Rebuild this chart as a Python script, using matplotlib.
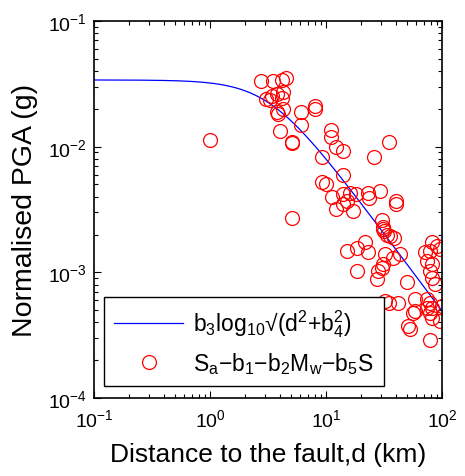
import numpy as np
import matplotlib
matplotlib.use("Agg")
import matplotlib.pyplot as plt
from matplotlib.ticker import LogLocator, NullFormatter

plt.rcParams['font.family'] = ['Liberation Sans', 'DejaVu Sans']
plt.rcParams['mathtext.default'] = 'regular'

# observed normalised PGA vs distance to the fault
dist_km = [2.74, 3.51, 4.15, 4.52, 3.04, 3.40, 3.29, 3.76, 4.29, 4.15,
           3.76, 3.88, 4.29, 4.01, 5.06, 5.06, 6.05, 6.05, 1.00, 8.04,
           8.04, 11.0, 11.0, 12.1, 13.9, 35.2, 9.18, 25.9, 14.1, 9.18,
           10.1, 11.2, 14.1, 16.1, 18.1, 23.2, 23.5, 29.2, 40.1, 40.1,
           12.2, 14.1, 15.1, 17.2, 30.2, 31.2, 31.6, 33.8, 38.5, 21.9,
           18.4, 15.1, 23.2, 32.3, 38.0, 43.5, 81.5, 71.3, 90.0, 96.1,
           78.8, 31.2, 30.2, 28.2, 27.4, 18.4, 49.6, 73.8, 81.5, 78.8,
           81.5, 87.1, 35.2, 32.3, 42.0, 58.5, 56.6, 58.5, 73.8, 78.8,
           73.8, 81.5, 78.8, 81.5, 96.1, 51.2, 53.0, 78.8, 99.4, 31.2,
           35.6, 5.06]
pga_g = [0.0331, 0.0334, 0.0340, 0.0349, 0.0239, 0.0251, 0.0236, 0.0262, 0.0270, 0.0242,
         0.0188, 0.0182, 0.0201, 0.0134, 0.0109, 0.0107, 0.0188, 0.0148, 0.0113, 0.0211,
         0.0201, 0.0135, 0.0120, 0.00986, 0.00927, 0.0108, 0.00820, 0.00820, 0.00593, 0.00519,
         0.00509, 0.00394, 0.00419, 0.00426, 0.00419, 0.00426, 0.00387, 0.00440, 0.00370, 0.00348,
         0.00322, 0.00348, 0.00370, 0.00308, 0.00261, 0.00231, 0.00213, 0.00197, 0.00189, 0.00175,
         0.00157, 0.00148, 0.00144, 0.00139, 0.00131, 0.00139, 0.00173, 0.00144, 0.00162, 0.00152,
         0.00148, 0.00116, 0.00109, 0.00102, 0.000879, 0.00102, 0.000843, 0.00123, 0.00116, 0.00102,
         0.000907, 0.000802, 0.000574, 0.000590, 0.000574, 0.000609, 0.000478, 0.000492, 0.000609, 0.000574,
         0.000524, 0.000524, 0.000478, 0.000435, 0.000409, 0.000373, 0.000352, 0.000292, 0.000540, 0.00220,
         0.00195, 0.00272]

# fitted attenuation term
b3 = -1.235
b4 = 3.25
offset = -0.837
d_fit = np.logspace(-1, 2, 300)
pga_fit = 10 ** (offset + b3 * np.log10(np.sqrt(d_fit ** 2 + b4 ** 2)))

fig = plt.figure(figsize=(4.65, 4.77), dpi=100)
ax = fig.add_axes([0.2022, 0.1635, 0.7483, 0.7904])

ax.plot(d_fit, pga_fit, color='#0000ff', lw=0.9,
        label=r'b$_3$log$_{10}$√(d$^2$+b$_4^2$)')
ax.plot(dist_km, pga_g, 'o', mfc='none', mec='red', ms=10, mew=0.9,
        label='S$_a$−b$_1$−b$_2$M$_w$−b$_5$S')

ax.set_xscale('log')
ax.set_yscale('log')
ax.set_xlim(0.1, 100)
ax.set_ylim(1e-4, 1e-1)

ax.xaxis.set_major_locator(LogLocator(base=10, numticks=10))
ax.yaxis.set_major_locator(LogLocator(base=10, numticks=10))
ax.xaxis.set_minor_locator(LogLocator(base=10, subs=np.arange(2, 10), numticks=10))
ax.yaxis.set_minor_locator(LogLocator(base=10, subs=np.arange(2, 10), numticks=10))
ax.xaxis.set_minor_formatter(NullFormatter())
ax.yaxis.set_minor_formatter(NullFormatter())
ax.tick_params(which='both', direction='in', top=True, right=True, width=0.8)
ax.tick_params(which='major', length=5, labelsize=14, pad=5)
ax.tick_params(axis='x', which='major', pad=7)
ax.tick_params(which='minor', length=3)
for s in ax.spines.values():
    s.set_linewidth(1.2)

ax.set_xlabel('Distance to the fault,d (km)', fontsize=19, labelpad=9)
ax.set_ylabel('Normalised PGA (g)', fontsize=20.5, labelpad=7)

leg = ax.legend(loc='lower left', bbox_to_anchor=(0.029, 0.032), fontsize=16.5,
                frameon=True, fancybox=False, edgecolor='black', framealpha=1,
                handlelength=3.0, borderpad=0.45, labelspacing=0.45,
                handletextpad=0.45, borderaxespad=0)
leg.get_frame().set_linewidth(1.0)

fig.savefig('out.png', dpi=100)
